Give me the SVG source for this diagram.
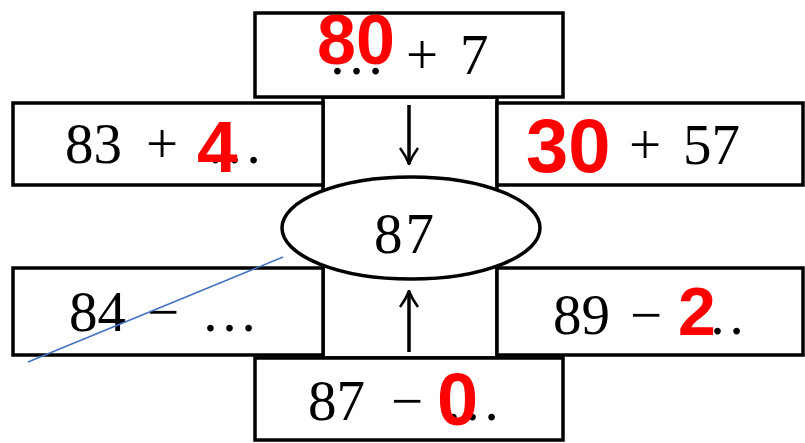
<svg xmlns="http://www.w3.org/2000/svg" width="805" height="443" viewBox="0 0 805 443">
<style>
.box{fill:#fff;stroke:#000;stroke-width:3.5}
.t{font-family:"Liberation Serif",serif;font-size:57px;fill:#000}
.r{font-family:"Liberation Sans",Arial,sans-serif;font-weight:bold;fill:#f00}
.arr{stroke:#000;stroke-width:3.5;fill:none}
</style>
<defs>
<marker id="ah" viewBox="0 0 18 20" refX="17" refY="10" markerWidth="18" markerHeight="20" orient="auto" markerUnits="userSpaceOnUse">
<path d="M1,1 Q9,7 17,10 Q9,13 1,19" fill="none" stroke="#000" stroke-width="2.5"/>
</marker>
</defs>
<rect width="805" height="443" fill="#fff"/>
<g id="column"><rect class="box" x="323" y="97" width="174" height="261"/></g>
<g id="top"><rect class="box" x="255" y="13" width="308" height="84"/>
<text class="t" y="74"><tspan x="328">…</tspan><tspan x="406">+</tspan><tspan x="460">7</tspan></text>
<text class="r" x="317" y="64" font-size="70">80</text></g>
<g id="left1"><rect class="box" x="13" y="103" width="310" height="82"/>
<text class="t" y="163"><tspan x="65">83</tspan><tspan x="146">+</tspan><tspan x="206">…</tspan></text>
<text class="r" x="197" y="172" font-size="73">4</text></g>
<g id="right1"><rect class="box" x="497" y="103" width="306" height="82"/>
<text class="t" y="164"><tspan x="629">+</tspan><tspan x="683">57</tspan></text>
<text class="r" x="526" y="172" font-size="76">30</text></g>
<g id="left2"><rect class="box" x="13" y="268" width="310" height="87"/>
<text class="t" y="331"><tspan x="69">84</tspan><tspan x="147">−</tspan><tspan x="201">…</tspan></text></g>
<g id="right2"><rect class="box" x="497" y="268" width="306" height="87"/>
<text class="t" y="334"><tspan x="553">89</tspan><tspan x="630">−</tspan><tspan x="689">…</tspan></text>
<text class="r" x="678" y="335" font-size="68">2</text></g>
<g id="bottom"><rect class="box" x="255" y="358" width="308" height="82"/>
<text class="t" y="420"><tspan x="308">87</tspan><tspan x="391">−</tspan><tspan x="444">…</tspan></text>
<text class="r" x="437" y="425" font-size="74">0</text></g>
<g id="center"><ellipse class="box" cx="411" cy="228" rx="129" ry="51"/>
<text class="t" x="374" y="253" letter-spacing="3">87</text></g>
<g id="connectors">
<line class="arr" x1="409" y1="105" x2="409" y2="164" marker-end="url(#ah)"/>
<line class="arr" x1="409" y1="352" x2="409" y2="291" marker-end="url(#ah)"/>
<line x1="283" y1="257" x2="28" y2="362" stroke="#4472C4" stroke-width="1.5"/>
</g>
</svg>
